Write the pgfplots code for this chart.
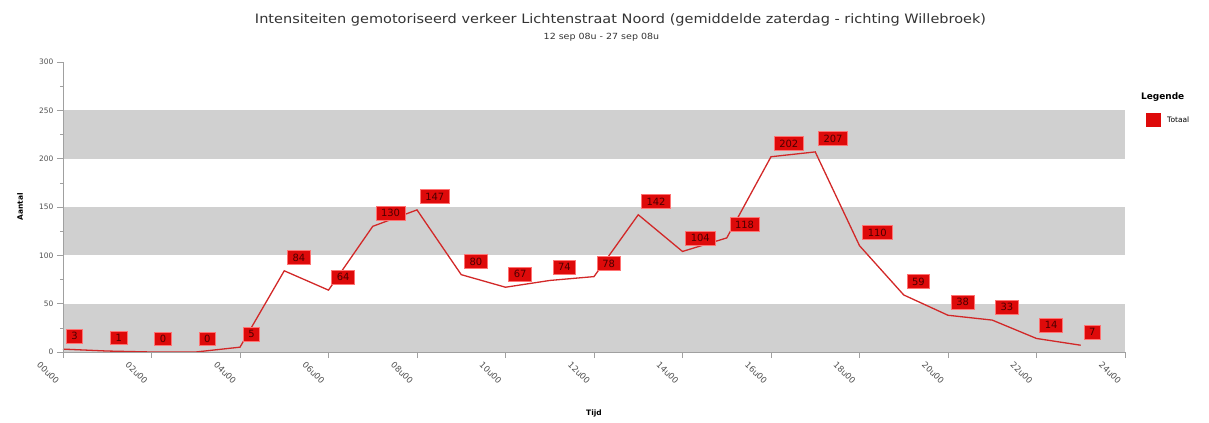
\documentclass[border=0pt]{standalone}
\usepackage{pgfplots}
\pgfplotsset{compat=1.18}
\usepackage{fontspec}
\setmainfont{DejaVu Sans}
\newfontfamily\titelfont[FakeStretch=1.12]{DejaVu Sans}

\definecolor{bandgray}{RGB}{208,208,208}
\definecolor{lijnrood}{RGB}{210,40,40}
\definecolor{labelrood}{RGB}{222,10,10}
\definecolor{asgrijs}{RGB}{160,160,160}
\definecolor{tekstgrijs}{RGB}{80,80,80}

% gemiddelde zaterdag, uurwaarden (uur, aantal)
\pgfplotstableread{
uur aantal
0 3
1 1
2 0
3 0
4 5
5 84
6 64
7 130
8 147
9 80
10 67
11 74
12 78
13 142
14 104
15 118
16 202
17 207
18 110
19 59
20 38
21 33
22 14
23 7
}\totaal

\begin{document}
\begin{tikzpicture}
\begin{axis}[
  scale only axis,
  width=1062bp, height=290bp,
  xmin=0, xmax=24, ymin=0, ymax=300,
  axis lines*=left,
  axis line style={draw=asgrijs, line width=0.8bp, -},
  axis on top,
  xtick={0,2,...,24},
  xticklabels={00u00,02u00,04u00,06u00,08u00,10u00,12u00,14u00,16u00,18u00,20u00,22u00,24u00},
  ytick={0,50,...,300},
  minor y tick num=1,
  tick align=outside,
  major tick length=6bp, minor tick length=3bp,
  tick style={draw=asgrijs, line width=0.6bp},
  /pgf/number format/assume math mode=true,
  xticklabel style={font=\fontsize{8.5}{9}\selectfont, text=tekstgrijs, rotate=-45, anchor=center, yshift=-21bp},
  yticklabel style={font=\fontsize{7.5}{8}\selectfont, text=tekstgrijs},
  xlabel={Tijd},
  xlabel style={font=\fontsize{7.5}{8}\selectfont\bfseries, at={(rel axis cs:0.5,0)}, anchor=center, yshift=-61bp},
  ylabel={Aantal},
  ylabel style={font=\fontsize{7.5}{8}\selectfont\bfseries, at={(rel axis cs:0,0.5)}, anchor=center, yshift=43bp},
  legend style={at={(rel axis cs:1.0195,0.80)}, anchor=west, draw=none, fill=none,
    font=\fontsize{7.5}{8}\selectfont, inner sep=0pt},
  legend image code/.code={\fill[labelrood] (0bp,-6bp) rectangle (14bp,6bp);},
  legend cell align=left,
  clip=false,
]
% horizontale banden
\fill[bandgray] (axis cs:0,0) rectangle (axis cs:24,50);
\fill[bandgray] (axis cs:0,100) rectangle (axis cs:24,150);
\fill[bandgray] (axis cs:0,200) rectangle (axis cs:24,250);

\addplot[
  color=lijnrood, line width=1.3bp, mark=none,
  nodes near coords,
  nodes near coords style={/pgf/number format/fixed, /pgf/number format/precision=0},
  every node near coord/.append style={
    anchor=south west, xshift=3bp, yshift=6bp,
    fill=labelrood, draw=red!55, line width=0.6bp,
    text=red!30!black, font=\fontsize{10}{10}\selectfont,
    inner xsep=5bp, inner ysep=3.3bp, text height=7.3bp, text depth=0bp}
] table[x=uur, y=aantal] {\totaal};
\addlegendentry{\hspace{4bp}Totaal}

\node[font=\fontsize{9}{10}\selectfont\bfseries] at (rel axis cs:1.0355,0.879) {Legende};
\node[font=\titelfont\fontsize{13}{14}\selectfont, text=black!80] at (rel axis cs:0.525,1.145)
  {Intensiteiten gemotoriseerd verkeer Lichtenstraat Noord (gemiddelde zaterdag - richting Willebroek)};
\node[font=\titelfont\fontsize{8.5}{9}\selectfont, text=black!80] at (rel axis cs:0.507,1.086)
  {12 sep 08u - 27 sep 08u};
\end{axis}
\pgfresetboundingbox
\useasboundingbox (-63bp,-71bp) rectangle (1146bp,352bp);
\end{tikzpicture}
\end{document}
